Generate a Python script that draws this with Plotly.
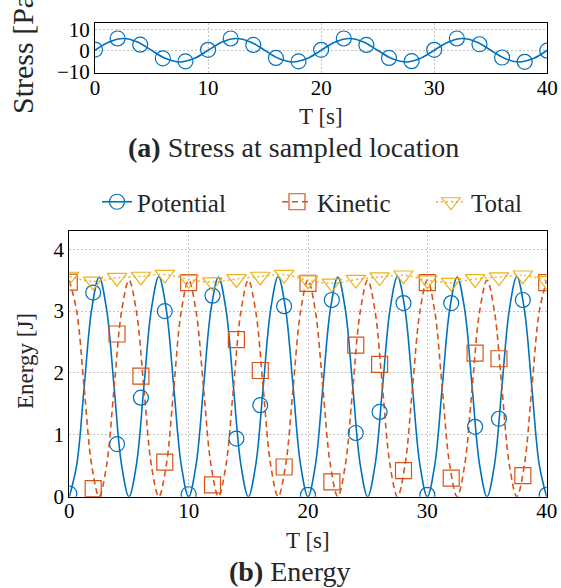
import plotly.graph_objects as go

W, H = 561, 588
FONT = "Liberation Serif"
TXT = "#262626"
BLUE, ORANGE, YELLOW = "#0072BD", "#D95319", "#EDB120"

# ---------------- data ----------------
# (a) stress curve, sampled every 1.25 s
stress_curve_t = [0, 1.25, 2.5, 3.75, 5, 6.25, 7.5, 8.75, 10, 11.25, 12.5, 13.75,
                  15, 16.25, 17.5, 18.75, 20, 21.25, 22.5, 23.75, 25, 26.25, 27.5,
                  28.75, 30, 31.25, 32.5, 33.75, 35, 36.25, 37.5, 38.75, 40]
stress_curve = [0.2, 4.1, 5.7, 4.1, 0.2, -3.7, -5.3, -3.7,
                0.2, 4.1, 5.7, 4.1, 0.2, -3.7, -5.3, -3.7,
                0.2, 4.1, 5.7, 4.1, 0.2, -3.7, -5.3, -3.7,
                0.2, 4.1, 5.7, 4.1, 0.2, -3.7, -5.3, -3.7, 0.2]

# sampled markers every 2 s
sample_t = [0, 2, 4, 6, 8, 10, 12, 14, 16, 18, 20, 22, 24, 26, 28, 30, 32, 34, 36, 38, 40]
stress_samples = [0.5, 5.7, 2.8, -3.6, -5.0, 0.4, 5.7, 2.7, -3.4, -5.0, 0.4,
                  5.7, 2.7, -3.4, -4.9, 0.4, 5.7, 3.0, -3.2, -5.2, 0.0]

# (b) energy curves, sampled every 0.625 s
energy_curve_t = [0, 0.625, 1.25, 1.875, 2.5, 3.125, 3.75, 4.375,
                  5, 5.625, 6.25, 6.875, 7.5, 8.125, 8.75, 9.375,
                  10, 10.625, 11.25, 11.875, 12.5, 13.125, 13.75, 14.375,
                  15, 15.625, 16.25, 16.875, 17.5, 18.125, 18.75, 19.375,
                  20, 20.625, 21.25, 21.875, 22.5, 23.125, 23.75, 24.375,
                  25, 25.625, 26.25, 26.875, 27.5, 28.125, 28.75, 29.375,
                  30, 30.625, 31.25, 31.875, 32.5, 33.125, 33.75, 34.375,
                  35, 35.625, 36.25, 36.875, 37.5, 38.125, 38.75, 39.375, 40]
potential_curve = [0, 0.52, 1.78, 3.03, 3.55, 3.03, 1.78, 0.52,
                   0, 0.52, 1.78, 3.03, 3.56, 3.03, 1.78, 0.52,
                   0, 0.52, 1.78, 3.03, 3.55, 3.03, 1.78, 0.52,
                   0, 0.52, 1.78, 3.03, 3.56, 3.03, 1.78, 0.52,
                   0, 0.52, 1.78, 3.03, 3.55, 3.03, 1.78, 0.52,
                   0, 0.52, 1.78, 3.03, 3.56, 3.03, 1.78, 0.52,
                   0, 0.52, 1.78, 3.03, 3.55, 3.03, 1.78, 0.52,
                   0, 0.52, 1.78, 3.03, 3.56, 3.03, 1.78, 0.52, 0]
kinetic_curve = [3.5, 2.99, 1.75, 0.51, 0, 0.51, 1.75, 2.99,
                 3.5, 2.99, 1.75, 0.51, 0, 0.51, 1.75, 2.99,
                 3.5, 2.99, 1.75, 0.51, 0, 0.51, 1.75, 2.99,
                 3.5, 2.99, 1.75, 0.51, 0, 0.51, 1.75, 2.99,
                 3.5, 2.99, 1.75, 0.51, 0, 0.51, 1.75, 2.99,
                 3.5, 2.99, 1.75, 0.51, 0, 0.51, 1.75, 2.99,
                 3.5, 2.99, 1.75, 0.51, 0, 0.51, 1.75, 2.99,
                 3.5, 2.99, 1.75, 0.51, 0, 0.51, 1.75, 2.99, 3.5]

potential_samples = [0.05, 3.30, 0.85, 1.60, 3.00, 0.04, 3.25, 0.94, 1.48, 3.08, 0.03,
                     3.18, 1.03, 1.37, 3.13, 0.03, 3.13, 1.13, 1.26, 3.18, 0.03]
kinetic_samples = [3.47, 0.13, 2.63, 1.95, 0.56, 3.46, 0.19, 2.54, 2.04, 0.48, 3.45,
                   0.24, 2.45, 2.14, 0.42, 3.46, 0.30, 2.32, 2.23, 0.34, 3.46]
total_samples = [3.56, 3.48, 3.54, 3.56, 3.59, 3.51, 3.47, 3.52, 3.56, 3.59, 3.50,
                 3.45, 3.51, 3.55, 3.58, 3.50, 3.46, 3.52, 3.55, 3.58, 3.49]

legend_names = ["Potential", "Kinetic", "Total"]
x_ticks = [0, 10, 20, 30, 40]
stress_ticks = [-10, 0, 10]
energy_ticks = [0, 1, 2, 3, 4]

# ---------------- layout geometry (pixels) ----------------
def px_x(a, b):
    return [a / W, b / W]

def px_y(top, bottom):
    return [1 - bottom / H, 1 - top / H]

fig = go.Figure()

# (a) stress
fig.add_trace(go.Scatter(x=stress_curve_t, y=stress_curve, mode="lines",
                         line=dict(color=BLUE, width=1.6, shape="spline"),
                         xaxis="x", yaxis="y", showlegend=False, hoverinfo="skip"))
fig.add_trace(go.Scatter(x=sample_t, y=stress_samples, mode="markers",
                         marker=dict(symbol="circle-open", size=15, color=BLUE,
                                     line=dict(width=1.2, color=BLUE)),
                         xaxis="x", yaxis="y", showlegend=False))

# (b) energy curves
fig.add_trace(go.Scatter(x=energy_curve_t, y=potential_curve, mode="lines",
                         line=dict(color=BLUE, width=1.6, shape="spline"),
                         xaxis="x2", yaxis="y2", showlegend=False, hoverinfo="skip"))
fig.add_trace(go.Scatter(x=energy_curve_t, y=kinetic_curve, mode="lines",
                         line=dict(color=ORANGE, width=1.6, dash="6px,4px", shape="spline"),
                         xaxis="x2", yaxis="y2", showlegend=False, hoverinfo="skip"))
fig.add_trace(go.Scatter(x=sample_t, y=total_samples, mode="lines",
                         line=dict(color=YELLOW, width=1.4, dash="2px,3px", shape="spline"),
                         xaxis="x2", yaxis="y2", showlegend=False, hoverinfo="skip"))

symbols = ["circle-open", "square-open", "triangle-down-open"]
colors = [BLUE, ORANGE, YELLOW]
samples = [potential_samples, kinetic_samples, total_samples]
sizes = [15, 16, 17]
for name, sym, col, ys, sz in zip(legend_names, symbols, colors, samples, sizes):
    fig.add_trace(go.Scatter(x=sample_t, y=ys, mode="markers",
                             marker=dict(symbol=sym, size=sz, color=col,
                                         line=dict(width=1.2, color=col)),
                             xaxis="x2", yaxis="y2", showlegend=False))

# legend-only entries, one legend box each
dashes = ["solid", "6px,4px", "2px,3px"]
legend_ids = ["legend", "legend2", "legend3"]
for name, sym, col, dsh, sz, lid in zip(legend_names, symbols, colors, dashes, sizes, legend_ids):
    fig.add_trace(go.Scatter(x=[None], y=[None], mode="lines+markers", name=name,
                             line=dict(color=col, width=1.6, dash=dsh),
                             marker=dict(symbol=sym, size=sz, color=col,
                                         line=dict(width=1.2, color=col)),
                             xaxis="x2", yaxis="y2", legend=lid))

axis_common = dict(showline=True, linecolor="black", linewidth=1, mirror=True,
                   showgrid=True, gridcolor="#c4c4c4", gridwidth=1, griddash="2px,2px",
                   zeroline=False, ticks="", automargin=False,
                   tickfont=dict(family=FONT, size=21, color="black"))

def leg(x_left):
    return dict(orientation="h", x=x_left / W, xanchor="left", y=1 - 202 / H,
                yanchor="middle", bgcolor="rgba(0,0,0,0)", borderwidth=0,
                font=dict(family=FONT, size=25, color=TXT))

fig.update_layout(
    width=W, height=H,
    margin=dict(l=0, r=0, t=0, b=0),
    paper_bgcolor="white", plot_bgcolor="white",
    xaxis=dict(domain=px_x(95, 547.3), range=[0, 40], tickvals=x_ticks,
               anchor="y", ticklabelstandoff=-4, **axis_common),
    yaxis=dict(domain=px_y(23.3, 72.7), range=[-10.3, 12.8], tickvals=stress_ticks,
               anchor="x", **axis_common),
    xaxis2=dict(domain=px_x(69.3, 546.7), range=[0, 40], tickvals=x_ticks,
                anchor="y2", ticklabelstandoff=-5, **axis_common),
    yaxis2=dict(domain=px_y(230.7, 496.7), range=[0, 4.3], tickvals=energy_ticks,
                anchor="x2", **axis_common),
    showlegend=True,
    legend=leg(97),
    legend2=leg(277),
    legend3=leg(431),
)

def ann(text, x, y, size, angle=0):
    fig.add_annotation(text=text, x=x / W, y=1 - y / H, xref="paper", yref="paper",
                       xanchor="center", yanchor="middle", showarrow=False,
                       textangle=angle, font=dict(family=FONT, size=size, color=TXT))

ann("Stress [Pa]", 23, 50, 30, -90)
ann("T [s]", 321, 116, 23)
ann("<b>(a)</b> Stress at sampled location", 293, 147, 28)
ann("Energy [J]", 25, 361, 23, -90)
ann("T [s]", 308, 540, 23)
ann("<b>(b)</b> Energy", 290, 571, 28)

fig.write_html("out.html", post_script="document.body.style.margin='0';",
               config={"displayModeBar": False})
